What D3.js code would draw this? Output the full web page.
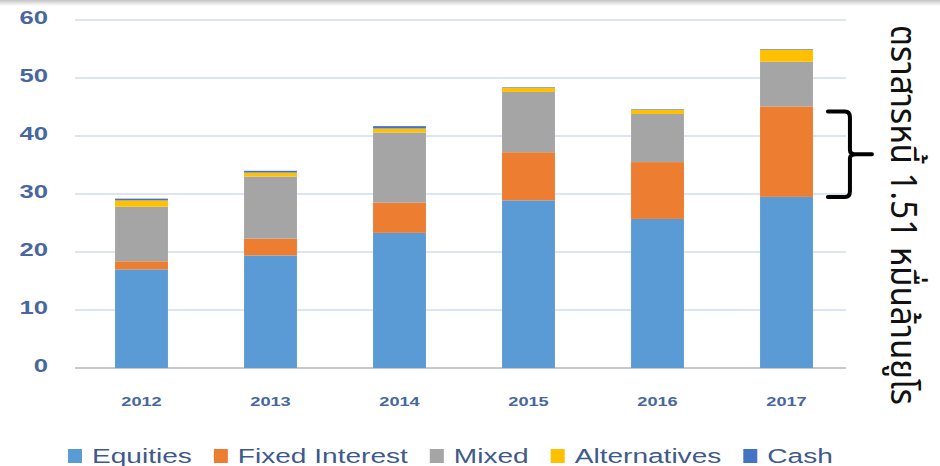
<!DOCTYPE html>
<meta charset="utf-8">
<script src="https://d3js.org/d3.v7.min.js"></script>
<style>
  body { margin: 0; background: #fff; }
  text { font-family: "Liberation Sans", Arial, sans-serif; }
</style>
<div id="chart"></div>
<script>

// data (billion EUR)
var years = ["2012", "2013", "2014", "2015", "2016", "2017"];
var seriesNames = ["Equities", "Fixed Interest", "Mixed", "Alternatives", "Cash"];
var equities      = [17.0, 19.4, 23.3, 28.9, 25.7, 29.5];
var fixedInterest = [1.4, 2.9, 5.2, 8.3, 9.8, 15.6];
var mixed         = [9.4, 10.7, 12.1, 10.4, 8.3, 7.7];
var alternatives  = [1.1, 0.7, 0.7, 0.7, 0.7, 2.1];
var cash          = [0.3, 0.3, 0.4, 0.1, 0.1, 0.1];
var yTicks = [0, 10, 20, 30, 40, 50, 60];
var note = "ตราสารหนี้ 1.51 หมื่นล้านยูโร";

var colors = ["#5b9bd5", "#ed7d31", "#a5a5a5", "#ffc000", "#4472c4"];
var sx = 1.35; // the picture is stretched sideways

var width = 940, height = 466;

var svg = d3.select("#chart").append("svg")
    .attr("width", width)
    .attr("height", height);

// faint shadow along the top edge
var grad = svg.append("defs").append("linearGradient")
    .attr("id", "shade").attr("x1", 0).attr("x2", 0).attr("y1", 0).attr("y2", 1);
grad.append("stop").attr("offset", 0).attr("stop-color", "#c4c4c4");
grad.append("stop").attr("offset", 1).attr("stop-color", "#fff");
svg.append("rect").attr("width", width).attr("height", 6).attr("fill", "url(#shade)");

var rows = years.map(function(y, i) {
  return {year: y, "Equities": equities[i], "Fixed Interest": fixedInterest[i],
          "Mixed": mixed[i], "Alternatives": alternatives[i], "Cash": cash[i]};
});

var x = d3.scaleBand()
    .domain(years)
    .range([77, 851])
    .paddingInner(0.59)
    .paddingOuter(0.295);

var y = d3.scaleLinear()
    .domain([0, 60])
    .range([368, 20]);

var color = d3.scaleOrdinal().domain(seriesNames).range(colors);

// gridlines
svg.append("g").selectAll("line")
  .data(yTicks)
  .enter().append("line")
    .attr("x1", 75).attr("x2", 846)
    .attr("y1", function(d) { return y(d); })
    .attr("y2", function(d) { return y(d); })
    .attr("stroke", function(d) { return d === 0 ? "#c9c9c9" : "#dde5f3"; })
    .attr("stroke-width", 2);

// y axis labels
var yAxis = svg.append("g")
    .attr("transform", "translate(75,0)")
    .call(d3.axisLeft(y).tickValues(yTicks).tickSize(0).tickPadding(0));
yAxis.select(".domain").remove();
yAxis.selectAll("text")
    .attr("x", 0)
    .attr("dy", "0.3em")
    .attr("transform", "translate(-27,-2) scale(" + sx + ",1)")
    .style("font-size", "19px")
    .style("font-weight", "bold")
    .attr("fill", "#4866a0");

// x axis labels
var xAxis = svg.append("g")
    .attr("transform", "translate(0,368)")
    .call(d3.axisBottom(x).tickSize(0).tickPadding(0));
xAxis.select(".domain").remove();
xAxis.selectAll("text")
    .attr("y", 0)
    .attr("dy", 0)
    .attr("transform", "translate(0,38) scale(" + sx + ",1)")
    .style("font-size", "13.5px")
    .style("font-weight", "bold")
    .attr("fill", "#4866a0");

// stacked bars
var stack = d3.stack().keys(seriesNames)(rows);

svg.append("g").selectAll("g")
  .data(stack)
  .enter().append("g")
    .attr("fill", function(d) { return color(d.key); })
  .selectAll("rect")
  .data(function(d) { return d; })
  .enter().append("rect")
    .attr("x", function(d) { return x(d.data.year); })
    .attr("y", function(d) { return y(d[1]); })
    .attr("height", function(d) { return y(d[0]) - y(d[1]); })
    .attr("width", x.bandwidth());

// brace next to the 2017 fixed interest block
var fi = stack[1][5];
var bTop = y(fi[1]) + 5, bBot = y(fi[0]), bMid = (bTop + bBot) / 2;
var bx = x("2017") + x.bandwidth() + 15;
svg.append("path")
    .attr("d", "M" + bx + "," + bTop +
               " L" + (bx + 17) + "," + bTop +
               " Q" + (bx + 22) + "," + bTop + " " + (bx + 22) + "," + (bTop + 6) +
               " L" + (bx + 22) + "," + (bMid - 4) +
               " Q" + (bx + 22) + "," + bMid + " " + (bx + 28) + "," + bMid +
               " L" + (bx + 44) + "," + bMid +
               " M" + (bx + 28) + "," + bMid +
               " Q" + (bx + 22) + "," + bMid + " " + (bx + 22) + "," + (bMid + 4) +
               " L" + (bx + 22) + "," + (bBot - 6) +
               " Q" + (bx + 22) + "," + bBot + " " + (bx + 17) + "," + bBot +
               " L" + bx + "," + bBot)
    .attr("fill", "none")
    .attr("stroke", "#000")
    .attr("stroke-width", 4)
    .attr("stroke-linecap", "round")
    .attr("stroke-linejoin", "round");

// vertical Thai note
svg.append("text")
    .attr("transform", "translate(891,25) scale(" + sx + ",1) rotate(90)")
    .style("font-family", "'Noto Sans Thai', Tahoma, sans-serif")
    .style("font-size", "27px")
    .attr("textLength", 380)
    .attr("lengthAdjust", "spacingAndGlyphs")
    .attr("fill", "#111")
    .text(note);

// legend
var lsx = 1.44;
var legend = svg.append("g").attr("transform", "translate(68,456)");
var lx = 0;
seriesNames.forEach(function(name) {
  var g = legend.append("g").attr("transform", "translate(" + lx + ",0)");
  g.append("rect")
      .attr("x", 0).attr("y", -7)
      .attr("width", 14).attr("height", 14)
      .attr("fill", color(name));
  var t = g.append("text")
      .attr("transform", "translate(24,0) scale(" + lsx + ",1)")
      .attr("dy", "0.35em")
      .style("font-size", "19.5px")
      .attr("fill", "#3e5a8c")
      .text(name);
  lx += 24 + t.node().getComputedTextLength() * lsx + 22;
});

</script>
